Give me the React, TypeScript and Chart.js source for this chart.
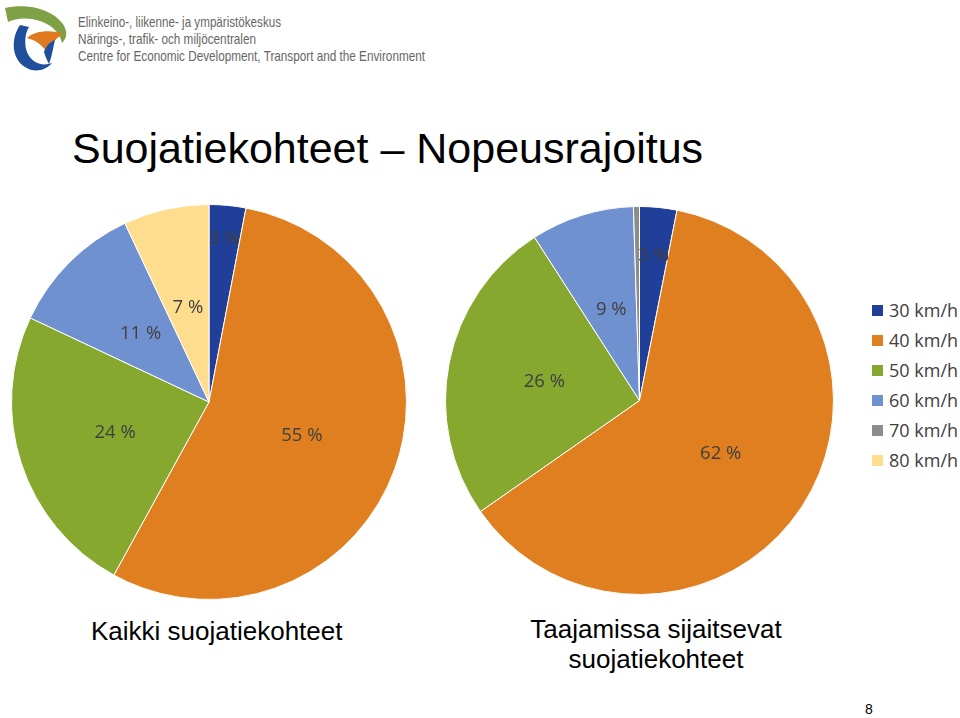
import React, { useEffect, useRef } from "react";
import { Chart, registerables } from "chart.js";

Chart.register(...registerables);

// ---- data ----
const categories = ["30 km/h", "40 km/h", "50 km/h", "60 km/h", "70 km/h", "80 km/h"];
const sliceColors = ["#203F98", "#E07F1F", "#86A82F", "#7091CF", "#8C8C8C", "#FFDD8E"];
const allCrossings = [3, 55, 24, 11, 0, 7];
const urbanCrossings = [3.1, 62.2, 25.6, 8.6, 0.5, 0];
const pageTitle = "Suojatiekohteet \u2013 Nopeusrajoitus";
const captionAll = ["Kaikki suojatiekohteet"];
const captionUrban = ["Taajamissa sijaitsevat", "suojatiekohteet"];
const orgLines = [
  "Elinkeino-, liikenne- ja ympäristökeskus",
  "Närings-, trafik- och miljöcentralen",
  "Centre for Economic Development, Transport and the Environment",
];
const pageNumber = "8";

const LABEL_FONT = "'Open Sans', 'DejaVu Sans', sans-serif";
const SLIDE_FONT = "'Liberation Sans', Arial, sans-serif";

const sliceLabelPlugin = {
  id: "sliceLabels",
  afterDatasetsDraw(chart: any, _args: any, opts: any) {
    const ctx = chart.ctx;
    const meta = chart.getDatasetMeta(0);
    const data = chart.data.datasets[0].data as number[];
    const radii: number[] = opts.radii || [];
    ctx.save();
    ctx.font = "18.5px " + LABEL_FONT;
    ctx.fillStyle = "#404040";
    ctx.textAlign = "center";
    ctx.textBaseline = "middle";
    meta.data.forEach((arc: any, i: number) => {
      const v = data[i];
      if (v < 1) return;
      const p = arc.getProps(["x", "y", "startAngle", "endAngle", "outerRadius"], true);
      const mid = (p.startAngle + p.endAngle) / 2;
      const r = p.outerRadius * (radii[i] ?? 0.5);
      ctx.fillText(Math.round(v) + " %", p.x + Math.cos(mid) * r, p.y + Math.sin(mid) * r);
    });
    ctx.restore();
  },
};

function PieChart(props: { values: number[]; radii: number[]; left: number; top: number; size: number }) {
  const ref = useRef<HTMLCanvasElement>(null);
  useEffect(() => {
    const chart = new Chart(ref.current as HTMLCanvasElement, {
      type: "pie",
      data: {
        labels: categories,
        datasets: [
          {
            data: props.values,
            backgroundColor: sliceColors,
            borderColor: "#ffffff",
            borderWidth: 1,
          },
        ],
      },
      options: {
        animation: false,
        responsive: false,
        maintainAspectRatio: false,
        layout: { padding: 0 },
        plugins: {
          legend: { display: false },
          tooltip: { enabled: false },
          // @ts-ignore
          sliceLabels: { radii: props.radii },
        },
      } as any,
      plugins: [sliceLabelPlugin],
    });
    return () => chart.destroy();
  }, []);
  return (
    <canvas
      ref={ref}
      width={props.size}
      height={props.size}
      style={{ position: "absolute", left: props.left, top: props.top, width: props.size, height: props.size }}
    />
  );
}

function Logo() {
  return (
    <svg width={440} height={75} style={{ position: "absolute", left: 0, top: 0 }}>
      <path d="M5,8 C25,3 52,8 63,24 C68,32 67,38 62,43 C60,33 52,25 40,21 C28,17 16,18 8,22 Z" fill="#7FA145" />
      <path d="M20,25 C11,38 11,58 25,67 C34,73 45,71 52,63 C41,67 31,62 27,52 C24,44 25,33 29,27 Z" fill="#1F4E9C" />
      <path d="M27,38 C36,30 53,30 63,34 C56,38 50,45 47,53 C43,45 35,40 27,38 Z" fill="#E07A1F" />
      <path d="M44,52 C46,46 50,42 55,40 C53,48 52,56 49,64 C47,60 45,56 44,52 Z" fill="#1F4E9C" />
      {orgLines.map((t, i) => (
        <text
          key={i}
          x={78}
          y={27 + i * 17}
          fontFamily={SLIDE_FONT}
          fontSize={14.5}
          fill="#666666"
          textLength={[203, 178, 347][i]}
          lengthAdjust="spacingAndGlyphs"
        >
          {t}
        </text>
      ))}
    </svg>
  );
}

export default function App() {
  return (
    <div style={{ position: "absolute", left: 0, top: 0, width: 960, height: 718, background: "#fff", overflow: "hidden" }}>
      <Logo />
      <div
        style={{
          position: "absolute",
          left: 72,
          top: 127,
          fontFamily: SLIDE_FONT,
          fontSize: 43,
          lineHeight: "43px",
          whiteSpace: "nowrap",
          color: "#000",
        }}
      >
        {pageTitle}
      </div>

      <PieChart values={allCrossings} radii={[0.83, 0.5, 0.5, 0.49, 0.5, 0.49]} left={11} top={204} size={396} />
      <PieChart values={urbanCrossings} radii={[0.75, 0.5, 0.5, 0.49, 0.5, 0.5]} left={445} top={206} size={389} />

      <div style={{ position: "absolute", left: 872, top: 295, fontFamily: LABEL_FONT, fontSize: 18, color: "#404040" }}>
        {categories.map((c, i) => (
          <div key={c} style={{ position: "absolute", left: 0, top: i * 30, height: 30, display: "flex", alignItems: "center", whiteSpace: "nowrap" }}>
            <span style={{ display: "inline-block", width: 11, height: 11, background: sliceColors[i], marginRight: 6 }} />
            <span>{c}</span>
          </div>
        ))}
      </div>

      <div
        style={{
          position: "absolute",
          left: 91,
          top: 616,
          fontFamily: SLIDE_FONT,
          fontSize: 26,
          lineHeight: "30px",
          whiteSpace: "nowrap",
          color: "#000",
        }}
      >
        {captionAll.map((t) => (
          <div key={t}>{t}</div>
        ))}
      </div>
      <div
        style={{
          position: "absolute",
          left: 506,
          width: 300,
          top: 614,
          fontFamily: SLIDE_FONT,
          fontSize: 26,
          lineHeight: "30px",
          textAlign: "center",
          whiteSpace: "nowrap",
          color: "#000",
        }}
      >
        {captionUrban.map((t) => (
          <div key={t}>{t}</div>
        ))}
      </div>

      <div style={{ position: "absolute", left: 865, top: 701, fontFamily: SLIDE_FONT, fontSize: 14, lineHeight: "16px", color: "#000" }}>
        {pageNumber}
      </div>
    </div>
  );
}
